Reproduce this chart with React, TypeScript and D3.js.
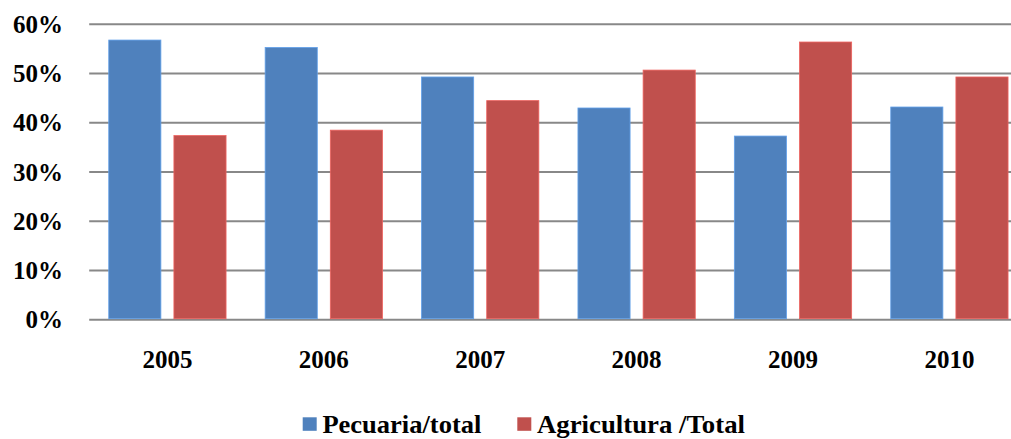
import React, { useEffect, useRef } from 'react';
import * as d3 from 'd3';

const years = ['2005', '2006', '2007', '2008', '2009', '2010'];
const seriesNames = ['Pecuaria/total', 'Agricultura /Total'];
const pecuaria = [56.8, 55.3, 49.3, 43.0, 37.3, 43.2];
const agricultura = [37.4, 38.5, 44.5, 50.7, 56.4, 49.3];
const yTicks = [0, 10, 20, 30, 40, 50, 60];
const colors = ['#4F81BD', '#C0504D'];

const W = 1011;
const H = 439;
const FONT = "'Times New Roman', 'Liberation Serif', serif";

const App = () => {
  const svgRef = useRef<SVGSVGElement>(null);

  useEffect(() => {
    const svg = d3.select(svgRef.current);
    svg.selectAll('*').remove();

    const left = 89.2;
    const right = 1027.6; // plot runs past the right edge, as in the source
    const top = 24.3;
    const bottom = 319.7;

    const x = d3.scaleBand().domain(years).range([left, right])
      .paddingInner(0.25).paddingOuter(0.125);
    const xs = d3.scaleBand().domain(seriesNames).range([0, x.bandwidth()])
      .paddingInner(0.2).paddingOuter(0);
    const y = d3.scaleLinear().domain([0, 60]).range([bottom, top]);

    // gridlines
    svg.append('g')
      .selectAll('line')
      .data(yTicks)
      .enter().append('line')
        .attr('x1', left)
        .attr('x2', right)
        .attr('y1', d => y(d))
        .attr('y2', d => y(d))
        .attr('stroke', '#888888')
        .attr('stroke-width', 2);

    // y labels
    svg.append('g')
      .selectAll('text')
      .data(yTicks)
      .enter().append('text')
        .attr('x', 63)
        .attr('y', d => y(d))
        .attr('dy', '0.34em')
        .attr('text-anchor', 'end')
        .style('font-family', FONT)
        .style('font-weight', 'bold')
        .style('font-size', '25px')
        .text(d => `${d}%`);

    const rows = years.map((yr, i) => ({ yr, vals: [pecuaria[i], agricultura[i]] }));

    const groups = svg.append('g')
      .selectAll('g')
      .data(rows)
      .enter().append('g')
        .attr('transform', d => `translate(${x(d.yr)},0)`);

    groups.selectAll('rect')
      .data(d => d.vals.map((v, j) => ({ v, j })))
      .enter().append('rect')
        .attr('x', d => xs(seriesNames[d.j]) as number)
        .attr('y', d => y(d.v))
        .attr('width', xs.bandwidth())
        .attr('height', d => bottom - 1 - y(d.v))
        .attr('fill', d => colors[d.j])
        .attr('stroke', d => d3.color(colors[d.j])!.brighter(0.6).toString())
        .attr('stroke-width', 0.8);

    // category labels
    svg.append('g')
      .selectAll('text')
      .data(years)
      .enter().append('text')
        .attr('x', d => (x(d) as number) + x.bandwidth() / 2)
        .attr('y', 368)
        .attr('text-anchor', 'middle')
        .style('font-family', FONT)
        .style('font-weight', 'bold')
        .style('font-size', '25px')
        .text(d => d);

    // legend (text a bit wider than plain Times in the source)
    const legendX = [302.7, 517.3];
    const legendLen = [159, 208];
    const legend = svg.append('g')
      .selectAll('g')
      .data(seriesNames)
      .enter().append('g')
        .attr('transform', (d, i) => `translate(${legendX[i]},0)`);
    legend.append('rect')
      .attr('x', 0)
      .attr('y', 417.3)
      .attr('width', 14)
      .attr('height', 13.5)
      .attr('fill', (d, i) => colors[i]);
    legend.append('text')
      .attr('x', 19.7)
      .attr('y', 433.2)
      .attr('textLength', (d, i) => legendLen[i])
      .attr('lengthAdjust', 'spacingAndGlyphs')
      .style('font-family', FONT)
      .style('font-weight', 'bold')
      .style('font-size', '25px')
      .text(d => d);
  }, []);

  return (
    <svg
      ref={svgRef}
      width={W}
      height={H}
      style={{ position: 'absolute', left: 0, top: 0, background: 'white', display: 'block' }}
    ></svg>
  );
};

export default App;
